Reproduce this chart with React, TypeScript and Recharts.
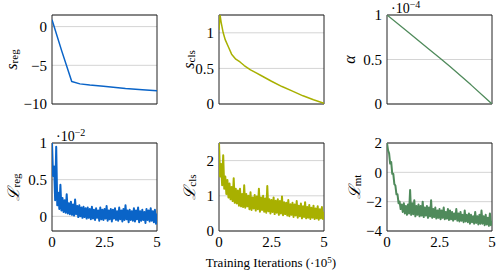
import React from 'react';
import { LineChart, Line, XAxis, YAxis, CartesianGrid, ReferenceArea } from 'recharts';

const FONT = 'Liberation Serif, Times New Roman, serif';
const BLUE = '#0a64c8';
const OLIVE = '#a8b000';
const GREEN = '#4f8a5b';

// x values in units of 1e5 training iterations
const sRegX = [0, 0.47, 0.94, 1.33, 1.8, 2.45, 3.5, 4.3, 5];
const sRegY = [0.9, -3.2, -7.1, -7.4, -7.55, -7.7, -8.0, -8.15, -8.3];

const sClsX = [0, 0.05, 0.1, 0.2, 0.3, 0.45, 0.6, 0.8, 1.0, 1.2, 1.5, 1.75, 2.0, 2.5, 3.0, 3.5, 4.0, 4.5, 5.0];
const sClsY = [1.04, 1.25, 1.15, 1.0, 0.9, 0.8, 0.7, 0.63, 0.59, 0.54, 0.48, 0.44, 0.4, 0.32, 0.245, 0.18, 0.115, 0.06, 0.01];

const alphaX = [0, 1, 2, 2.5, 3, 4, 5];
const alphaY = [1, 0.81, 0.615, 0.52, 0.42, 0.215, 0]; // x 1e-4

// noisy losses, one value every 0.05 (x 1e5 iterations)
const lRegY = [
  1.0, 0.55, 0.68, 0.22, 0.95, 0.15, 0.32, 0.1, 0.43, 0.08,
  0.25, 0.06, 0.22, 0.05, 0.3, 0.04, 0.18, 0.03, 0.2, 0.02,
  0.16, 0.01, 0.23, 0.03, 0.14, -0.01, 0.15, 0.0, 0.12, -0.02,
  0.13, -0.01, 0.11, -0.03, 0.12, -0.02, 0.1, -0.04, 0.13, -0.03,
  0.09, -0.05, 0.11, -0.02, 0.08, -0.06, 0.12, -0.04, 0.09, -0.05,
  0.1, -0.03, 0.14, -0.06, 0.08, -0.04, 0.1, -0.07, 0.09, -0.03,
  0.11, -0.05, 0.07, -0.06, 0.12, -0.04, 0.08, -0.07, 0.1, -0.05,
  0.15, -0.04, 0.08, -0.08, 0.09, -0.05, 0.07, -0.06, 0.11, -0.07,
  0.08, -0.04, 0.12, -0.08, 0.07, -0.06, 0.09, -0.05, 0.06, -0.09,
  0.1, -0.05, 0.08, -0.07, 0.11, -0.06, 0.07, -0.08, 0.09, -0.1,
  0.04,
]; // x 1e-2

const lClsY = [
  2.5, 1.55, 1.9, 1.3, 2.15, 1.2, 1.55, 1.05, 1.45, 0.95,
  1.35, 0.9, 1.25, 0.85, 1.5, 0.8, 1.2, 0.78, 1.15, 0.72,
  1.2, 0.7, 1.05, 0.68, 1.3, 0.66, 1.05, 0.7, 1.0, 0.62,
  1.1, 0.6, 0.95, 0.64, 1.02, 0.58, 0.98, 0.62, 1.2, 0.55,
  0.95, 0.6, 1.0, 0.55, 0.92, 0.52, 1.28, 0.56, 0.9, 0.5,
  0.88, 0.54, 0.95, 0.48, 0.86, 0.52, 0.9, 0.46, 0.85, 0.5,
  0.98, 0.45, 0.82, 0.48, 0.8, 0.44, 0.88, 0.42, 0.76, 0.46,
  0.8, 0.4, 0.75, 0.44, 0.85, 0.38, 0.72, 0.42, 0.78, 0.36,
  0.7, 0.4, 0.82, 0.36, 0.68, 0.38, 0.74, 0.34, 0.66, 0.38,
  0.72, 0.34, 0.64, 0.36, 0.7, 0.32, 0.62, 0.36, 0.68, 0.34,
  0.55,
];

const lMtY = [
  2.0, 1.5, 1.3, 0.6, 0.7, -0.1, -0.1, -0.8, -0.9, -1.5,
  -1.5, -2.1, -2.0, -2.5, -2.2, -2.7, -2.1, -2.8, -2.3, -2.9,
  -2.2, -2.8, -1.2, -2.9, -2.1, -2.85, -1.9, -3.0, -2.3, -2.9,
  -2.2, -3.0, -2.3, -2.95, -2.0, -3.05, -2.4, -2.95, -2.3, -3.1,
  -2.4, -3.0, -1.9, -3.1, -2.5, -3.05, -2.4, -3.15, -2.6, -3.1,
  -2.5, -3.2, -2.6, -3.1, -2.4, -3.2, -2.7, -3.15, -2.5, -3.25,
  -2.6, -3.2, -2.7, -3.3, -2.8, -3.2, -2.5, -3.3, -2.8, -3.35,
  -2.7, -3.3, -2.9, -3.4, -2.6, -3.35, -2.9, -3.4, -2.8, -3.5,
  -2.9, -3.4, -3.0, -3.5, -2.7, -3.45, -3.0, -3.55, -2.9, -3.5,
  -2.6, -3.5, -3.0, -3.6, -2.9, -3.55, -3.1, -3.65, -2.8, -3.6,
  -3.3,
];

const pairs = (xs: number[], ys: number[]) => ys.map((y, i) => ({ x: xs[i], y }));
const steps = (ys: number[]) => ys.map((y, i) => ({ x: i * 0.05, y }));

const fmt = (v: number) => String(v).replace('-', '\u2212');

const AXIS_W = 50;
const PLOT_W = 105;
const TOP_PAD = 23;
const TICK_FS = 15;

const YTick = (props: any) => (
  <text
    x={props.x}
    y={props.y}
    dy="0.35em"
    textAnchor="end"
    fontFamily={FONT}
    fontSize={TICK_FS}
    fill="#000"
  >
    {fmt(props.payload.value)}
  </text>
);

const XTick = (props: any) => (
  <text
    x={props.x}
    y={props.y}
    dy="0.71em"
    textAnchor="middle"
    fontFamily={FONT}
    fontSize={TICK_FS}
    fill="#000"
  >
    {fmt(props.payload.value)}
  </text>
);

type PanelProps = {
  left: number;
  top: number; // y of plot box top
  bottomRow: boolean;
  data: { x: number; y: number }[];
  color: string;
  strokeWidth: number;
  domain: [number, number];
  ticks: number[];
  name: string;
  sub?: string;
  labelDx: number;
  exponent?: string;
};

const Panel = (p: PanelProps) => {
  const plotH = p.bottomRow ? 88 : 89;
  const padTop = Math.min(TOP_PAD, p.top);
  const padBottom = 10;
  const height = padTop + plotH + (p.bottomRow ? 22 : 0) + padBottom;

  const yLabel = (props: any) => {
    const vb = props.viewBox;
    const cx = vb.x + p.labelDx;
    const cy = vb.y + vb.height / 2;
    return (
      <g>
        <text
          transform={`translate(${cx},${cy}) rotate(-90)`}
          textAnchor="middle"
          dominantBaseline="central"
          fontFamily={FONT}
          fill="#000"
        >
          <tspan fontStyle="italic" fontSize={16}>{p.name}</tspan>
          {p.sub && <tspan fontSize={11} dy={3}>{p.sub}</tspan>}
        </text>
        {p.exponent && (
          <text x={vb.x + vb.width + 4} y={vb.y - 2} fontFamily={FONT} fontSize={14} fill="#000">
            ·10<tspan fontSize={10} dy={-5}>{p.exponent}</tspan>
          </text>
        )}
      </g>
    );
  };

  return (
    <div style={{ position: 'absolute', left: p.left - AXIS_W, top: p.top - padTop }}>
      <LineChart
        width={AXIS_W + PLOT_W + 4}
        height={height}
        data={p.data}
        margin={{ top: padTop, right: 4, bottom: padBottom, left: 0 }}
      >
        <CartesianGrid vertical={false} stroke="#d4d4d4" />
        <XAxis
          dataKey="x"
          type="number"
          domain={[0, 5]}
          ticks={[0, 2.5, 5]}
          interval={0}
          allowDataOverflow
          hide={!p.bottomRow}
          height={22}
          tickLine={false}
          axisLine={false}
          tickSize={3}
          tickMargin={2}
          tick={<XTick />}
        />
        <YAxis
          type="number"
          width={AXIS_W}
          domain={p.domain}
          ticks={p.ticks}
          interval={0}
          allowDataOverflow
          tickLine={false}
          axisLine={false}
          tickSize={3}
          tickMargin={2}
          tick={<YTick />}
          label={{ content: yLabel }}
        />
        <Line
          dataKey="y"
          stroke={p.color}
          strokeWidth={p.strokeWidth}
          strokeLinejoin="round"
          dot={false}
          isAnimationActive={false}
        />
        <ReferenceArea
          x1={0}
          x2={5}
          y1={p.domain[0]}
          y2={p.domain[1]}
          fill="none"
          stroke="#222"
          strokeWidth={1}
          ifOverflow="visible"
        />
      </LineChart>
    </div>
  );
};

export default function App() {
  return (
    <div style={{ position: 'absolute', left: 0, top: 0, width: 501, height: 278, background: '#fff', fontFamily: FONT }}>
      <Panel left={52} top={15} bottomRow={false} data={pairs(sRegX, sRegY)} color={BLUE} strokeWidth={1.5}
        domain={[-10, 1.5]} ticks={[-10, -5, 0]} name="s" sub="reg" labelDx={9} />
      <Panel left={219} top={15} bottomRow={false} data={pairs(sClsX, sClsY)} color={OLIVE} strokeWidth={1.5}
        domain={[0, 1.25]} ticks={[0, 0.5, 1]} name="s" sub="cls" labelDx={19} />
      <Panel left={387} top={15} bottomRow={false} data={pairs(alphaX, alphaY)} color={GREEN} strokeWidth={1.3}
        domain={[0, 1]} ticks={[0, 0.5, 1]} name="α" labelDx={11.5} exponent={'\u22124'} />
      <Panel left={52} top={143} bottomRow data={steps(lRegY)} color={BLUE} strokeWidth={2}
        domain={[-0.2, 1]} ticks={[0, 0.5, 1]} name="ℒ" sub="reg" labelDx={11} exponent={'\u22122'} />
      <Panel left={219} top={143} bottomRow data={steps(lClsY)} color={OLIVE} strokeWidth={2}
        domain={[0, 2.5]} ticks={[0, 1, 2]} name="ℒ" sub="cls" labelDx={19.5} />
      <Panel left={387} top={143} bottomRow data={steps(lMtY)} color={GREEN} strokeWidth={2}
        domain={[-4, 2]} ticks={[-4, -2, 0, 2]} name="ℒ" sub="mt" labelDx={16.5} />
      <div
        style={{
          position: 'absolute',
          left: 171,
          width: 200,
          top: 256,
          textAlign: 'center',
          fontSize: 13,
          lineHeight: '14px',
          color: '#000',
          whiteSpace: 'nowrap',
        }}
      >
        Training Iterations (·10<sup style={{ fontSize: 9, verticalAlign: 'top', lineHeight: '8px' }}>5</sup>)
      </div>
    </div>
  );
}
